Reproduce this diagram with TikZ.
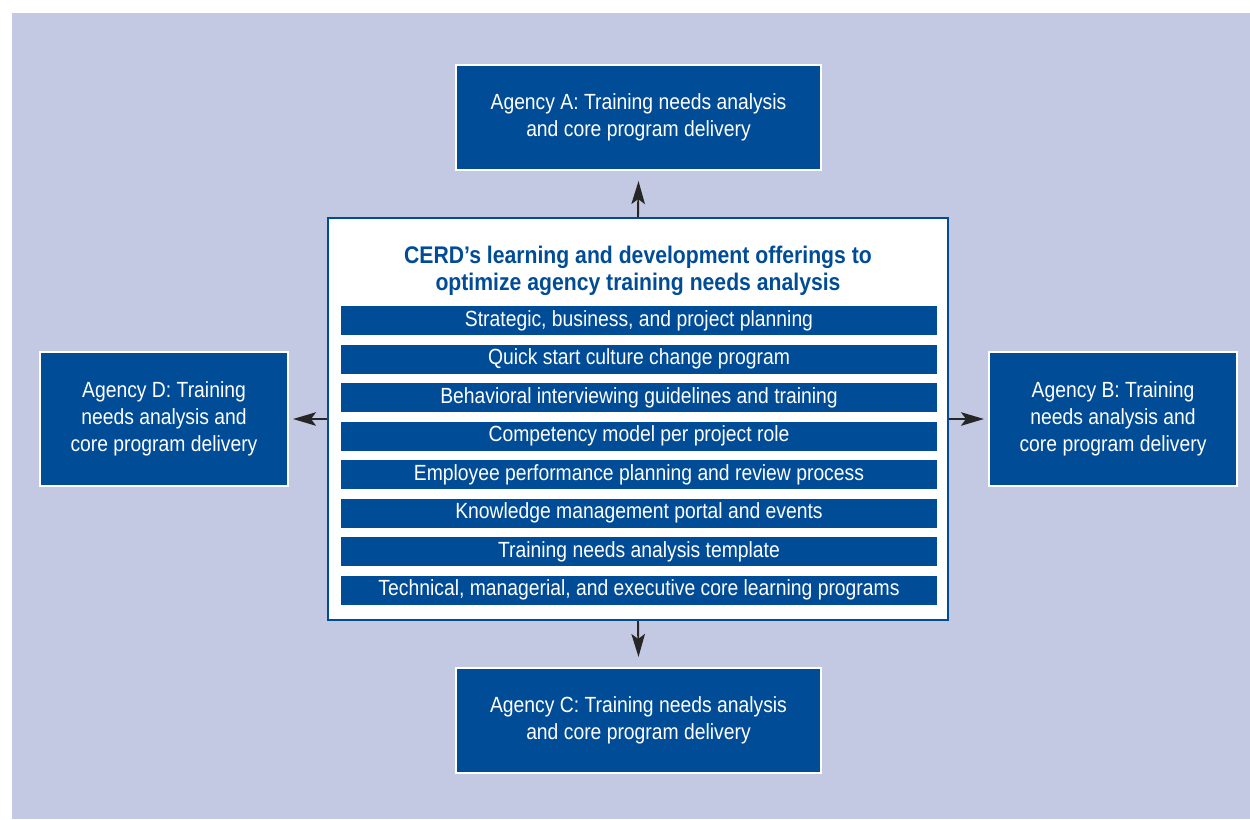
\documentclass[tikz,border=0pt]{standalone}
\usepackage{fontspec}
\setmainfont{Liberation Sans}[FakeStretch=0.88]
\usetikzlibrary{arrows.meta}
\definecolor{cerdblue}{RGB}{0,76,151}
\definecolor{lavender}{RGB}{196,201,227}
\begin{document}
\begin{tikzpicture}[x=0.02cm,y=-0.02cm,
    agency/.style={draw=white,line width=1.2pt,fill=cerdblue,text=white,align=center,
      font=\fontsize{12.5}{15.2}\selectfont,inner sep=0pt},
    offer/.style={fill=cerdblue,text=white,minimum width=11.92cm,minimum height=0.58cm,
      inner sep=0pt,font=\fontsize{12.5}{15.2}\selectfont},
    link/.style={-{Stealth[length=0.46cm,width=0.27cm,inset=0.1cm]},line width=1.1pt,black!85}]
    \fill[white] (0,0) rectangle (1250,819);
    \fill[lavender] (12,13) rectangle (1250,819);
    \useasboundingbox (0,0) rectangle (1250,819);

    % outer agencies
    \node[agency,minimum width=7.3cm,minimum height=2.1cm] (a) at (638.5,117.5) {Agency A: Training needs analysis\\and core program delivery};
    \node[agency,minimum width=7.3cm,minimum height=2.1cm] (c) at (638.5,720.5) {Agency C: Training needs analysis\\and core program delivery};
    \node[agency,minimum width=4.96cm,minimum height=2.68cm] (d) at (164,419) {Agency D: Training\\needs analysis and\\core program delivery};
    \node[agency,minimum width=4.96cm,minimum height=2.68cm] (b) at (1113,419) {Agency B: Training\\needs analysis and\\core program delivery};

    % centre box
    \node[draw=cerdblue,line width=1.3pt,fill=white,minimum width=12.4cm,minimum height=8.04cm,inner sep=0pt] (cerd) at (638,419) {};
    \node[text=cerdblue,align=center,font=\fontsize{13.7}{15.4}\selectfont\bfseries] (title) at (638,270.5) {CERD’s learning and development offerings to\\optimize agency training needs analysis};

    \node[offer] (o1) at (639,320.5) {Strategic, business, and project planning};
    \node[offer] (o2) at (639,359) {Quick start culture change program};
    \node[offer] (o3) at (639,397.5) {Behavioral interviewing guidelines and training};
    \node[offer] (o4) at (639,436) {Competency model per project role};
    \node[offer] (o5) at (639,474.5) {Employee performance planning and review process};
    \node[offer] (o6) at (639,513) {Knowledge management portal and events};
    \node[offer] (o7) at (639,551.5) {Training needs analysis template};
    \node[offer] (o8) at (639,590) {Technical, managerial, and executive core learning programs};

    \draw[link] (cerd.north) -- ([yshift=-0.2cm]a.south);
    \draw[link] (cerd.south) -- ([yshift=0.2cm]c.north);
    \draw[link] (cerd.west) -- ([xshift=0.08cm]d.east);
    \draw[link] (cerd.east) -- ([xshift=-0.08cm]b.west);
\end{tikzpicture}
\end{document}
